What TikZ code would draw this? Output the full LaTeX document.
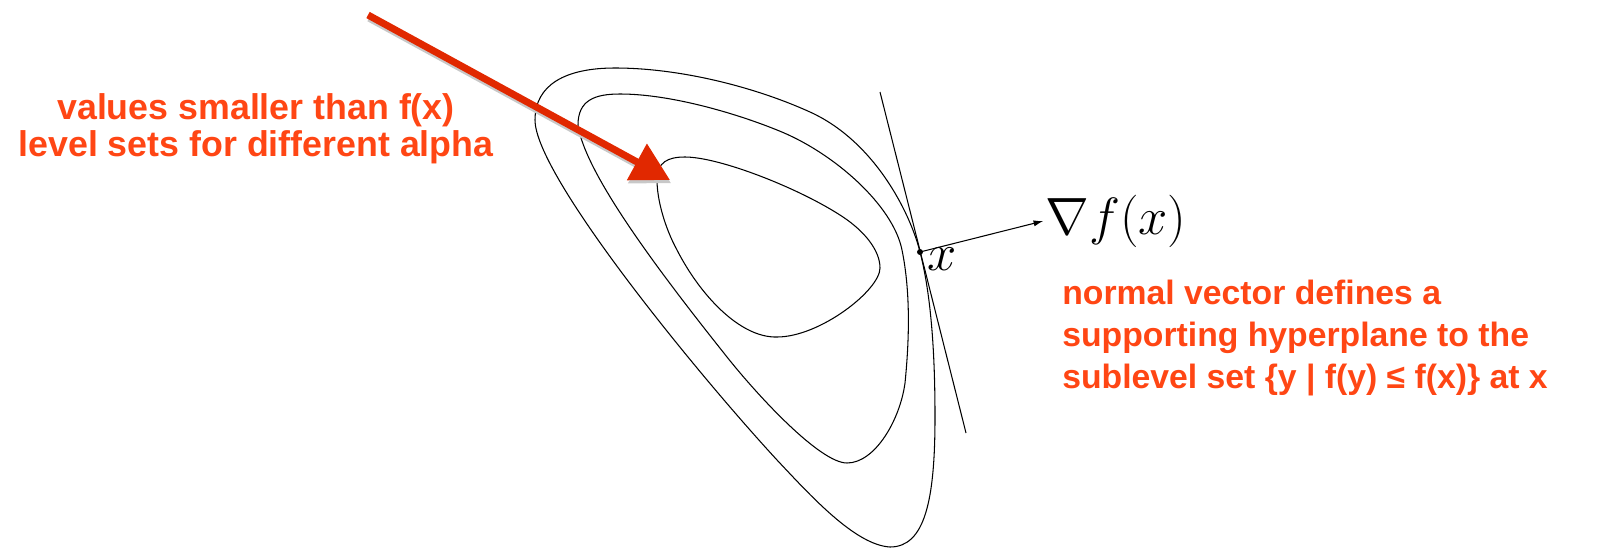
\documentclass[tikz,border=0pt]{standalone}
\usepackage{amsmath}
\usepackage{fontspec}
\setsansfont{Liberation Sans}
\usepackage{xcolor}
\usepackage{tikz}
\usetikzlibrary{calc,arrows.meta}
\definecolor{noteorange}{RGB}{255, 70, 20}
\definecolor{arrowred}{RGB}{225, 40, 0}
\definecolor{shadowgray}{RGB}{200, 200, 200}

\begin{document}
\begin{tikzpicture}[x=0.02cm, y=-0.02cm,
    levelset/.style={line width=0.6pt, black},
    note/.style={text=noteorange, inner sep=0pt}]
    \useasboundingbox (0,0) rectangle (1612,548);

    % Outer level set (touches the hyperplane at x)
    \draw[levelset] (535,120) .. controls (535,85) and (565,68) .. (615,68)
        .. controls (680,68) and (755,87) .. (810,112)
        .. controls (874,141) and (910,212) .. (920,252)
        .. controls (933,302) and (935,370) .. (935,417)
        .. controls (935,500) and (925,547) .. (890,547)
        .. controls (855,545) and (810,495) .. (777,460)
        .. controls (695,371) and (535,175) .. cycle;
    % Middle level set
    \draw[levelset] (578,125) .. controls (578,100) and (595,94) .. (620,94)
        .. controls (670,94) and (735,113) .. (777,130)
        .. controls (833,152) and (893,205) .. (902,250)
        .. controls (911,294) and (909,343) .. (905,383)
        .. controls (900,420) and (875,463) .. (847,463)
        .. controls (820,463) and (758,396) .. (727,357)
        .. controls (665,279) and (585,175) .. cycle;
    % Inner level set
    \draw[levelset] (657,180) .. controls (657,162) and (668,157) .. (685,157)
        .. controls (720,157) and (801,189) .. (843,217)
        .. controls (864,231) and (880,250) .. (880,268)
        .. controls (880,290) and (820,337) .. (777,337)
        .. controls (740,338) and (700,295) .. (677,250)
        .. controls (665,228) and (657,200) .. cycle;

    % Supporting hyperplane at x
    \coordinate (X) at (920,252);
    \coordinate (H1) at (880,92);
    \coordinate (H2) at (966,433);
    \draw[line width=0.6pt] (H1) -- (H2);

    % Gradient vector
    \node[anchor=west, inner sep=0pt, scale=1.2, font=\fontsize{24}{29}\selectfont] (grad) at (1045,221) {$\nabla f(x)$};
    \draw[line width=0.6pt, -{Latex[length=5.5pt,width=3.5pt]}] (X) -- ([xshift=-1pt]grad.west);
    \fill (X) circle (1.7pt) node[anchor=north west, inner sep=0pt, xshift=4pt, yshift=2.3pt, scale=1.2, font=\fontsize{24}{29}\selectfont] (xlab) {$x$};

    % Big red pointer with shadow
    \coordinate (S) at (368,15);
    \coordinate (T) at (670,180);
    \draw[shadowgray, line width=4pt, -{Triangle[length=21.5pt,width=22.7pt]}, transform canvas={xshift=0.6pt, yshift=-1.8pt}] (S) -- (T);
    \draw[arrowred, line width=4pt, -{Triangle[length=21.5pt,width=22.7pt]}] (S) -- (T);

    % Notes
    \node[note, anchor=north, align=center, font=\sffamily\bfseries\fontsize{20.35}{21}\selectfont] (lvl) at (256,93) {values smaller than f(x)\\level sets for different alpha};
    \node[note, anchor=north west, align=left, font=\sffamily\bfseries\fontsize{19.2}{23.8}\selectfont] (normal) at (1062,280) {normal vector defines a\\supporting hyperplane to the\\sublevel set \{y | f(y) ≤ f(x)\} at x};
\end{tikzpicture}
\end{document}
